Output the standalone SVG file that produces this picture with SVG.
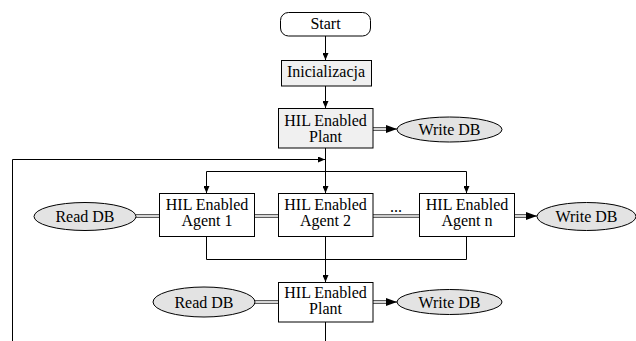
<svg xmlns="http://www.w3.org/2000/svg" width="636" height="341" viewBox="0 0 636 341">
<style>
  .box { stroke: #000; stroke-width: 1; fill: #fff; }
  .gray { fill: #f0f0f0; }
  .db { stroke: #000; stroke-width: 1; fill: #e3e3e3; }
  .t { font-family: "Liberation Serif", "Times New Roman", serif; font-size: 16px; fill: #000; text-anchor: middle; }
  .ln { stroke: #000; stroke-width: 1; fill: none; }
  .dbl-o { stroke: #333; stroke-width: 3.6; fill: none; }
  .dbl-i { stroke: #fff; stroke-width: 1.6; fill: none; }
</style>
<defs>
  <marker id="ar" markerWidth="8" markerHeight="6" refX="7" refY="3" orient="auto" markerUnits="userSpaceOnUse">
    <path d="M0,0 L7,3 L0,6 Z" fill="#000"/>
  </marker>
  <marker id="ar2" markerWidth="12" markerHeight="10" refX="11" refY="5" orient="auto" markerUnits="userSpaceOnUse">
    <path d="M0,1 L11,5 L0,9 Z" fill="#000"/>
  </marker>
</defs>

<g id="connectors">
  <line class="ln" x1="325.5" y1="36" x2="325.5" y2="60" marker-end="url(#ar)"/>
  <line class="ln" x1="325.5" y1="86" x2="325.5" y2="108" marker-end="url(#ar)"/>
  <line class="ln" x1="325.5" y1="148" x2="325.5" y2="193" marker-end="url(#ar)"/>
  <polyline class="ln" points="12.5,341 12.5,159.5 325,159.5" marker-end="url(#ar)"/>
  <polyline class="ln" points="206.5,193 206.5,171.5 466.5,171.5 466.5,193"/>
  <line class="ln" x1="206.5" y1="180" x2="206.5" y2="193" marker-end="url(#ar)"/>
  <line class="ln" x1="466.5" y1="180" x2="466.5" y2="193" marker-end="url(#ar)"/>
  <polyline class="ln" points="206.5,237 206.5,259.5 466.5,259.5 466.5,237"/>
  <line class="ln" x1="325.5" y1="237" x2="325.5" y2="282" marker-end="url(#ar)"/>
  <line class="ln" x1="325.5" y1="322" x2="325.5" y2="341"/>

  <line class="dbl-o" x1="373" y1="129" x2="390" y2="129"/>
  <line class="dbl-i" x1="373" y1="129" x2="390" y2="129"/>
  <line class="ln" x1="388" y1="129" x2="397" y2="129" marker-end="url(#ar2)"/>

  <line class="dbl-o" x1="136" y1="216" x2="159" y2="216"/>
  <line class="dbl-i" x1="136" y1="216" x2="159" y2="216"/>
  <line class="dbl-o" x1="254" y1="216" x2="278" y2="216"/>
  <line class="dbl-i" x1="254" y1="216" x2="278" y2="216"/>
  <line class="dbl-o" x1="373" y1="216" x2="419" y2="216"/>
  <line class="dbl-i" x1="373" y1="216" x2="419" y2="216"/>
  <line class="dbl-o" x1="514" y1="216" x2="530" y2="216"/>
  <line class="dbl-i" x1="514" y1="216" x2="530" y2="216"/>
  <line class="ln" x1="528" y1="216" x2="537" y2="216" marker-end="url(#ar2)"/>

  <line class="dbl-o" x1="255" y1="302" x2="278" y2="302"/>
  <line class="dbl-i" x1="255" y1="302" x2="278" y2="302"/>
  <line class="dbl-o" x1="373" y1="302" x2="390" y2="302"/>
  <line class="dbl-i" x1="373" y1="302" x2="390" y2="302"/>
  <line class="ln" x1="388" y1="302" x2="397" y2="302" marker-end="url(#ar2)"/>
  <text class="t" x="396" y="212">...</text>
</g>

<g id="start">
  <rect class="box" x="280.5" y="12.5" width="90" height="23.5" rx="8"/>
  <text class="t" x="325.5" y="29">Start</text>
</g>
<g id="init">
  <rect class="box gray" x="281.5" y="60.5" width="90" height="25.5"/>
  <text class="t" x="326" y="77">Inicializacja</text>
</g>
<g id="plant1">
  <rect class="box gray" x="278.5" y="108.5" width="94.5" height="39.5"/>
  <text class="t" x="325.5" y="126">HIL Enabled</text>
  <text class="t" x="325.5" y="142">Plant</text>
</g>
<g id="writedb1">
  <ellipse class="db" cx="449.5" cy="129.5" rx="52.5" ry="12.5"/>
  <text class="t" x="449.5" y="135">Write DB</text>
</g>
<g id="readdb1">
  <ellipse class="db" cx="85" cy="216.5" rx="51" ry="14"/>
  <text class="t" x="85" y="222">Read DB</text>
</g>
<g id="agent1">
  <rect class="box" x="159.5" y="193.5" width="95" height="43"/>
  <text class="t" x="207" y="210">HIL Enabled</text>
  <text class="t" x="207" y="226">Agent 1</text>
</g>
<g id="agent2">
  <rect class="box" x="278.5" y="193.5" width="94.5" height="43"/>
  <text class="t" x="325.5" y="210">HIL Enabled</text>
  <text class="t" x="325.5" y="226">Agent 2</text>
</g>
<g id="agentn">
  <rect class="box" x="419.5" y="193.5" width="95" height="43"/>
  <text class="t" x="467" y="210">HIL Enabled</text>
  <text class="t" x="467" y="226">Agent n</text>
</g>
<g id="writedb2">
  <ellipse class="db" cx="586.5" cy="216.5" rx="49.5" ry="14"/>
  <text class="t" x="586.5" y="222">Write DB</text>
</g>
<g id="readdb2">
  <ellipse class="db" cx="204" cy="302" rx="51" ry="15"/>
  <text class="t" x="204" y="307.5">Read DB</text>
</g>
<g id="plant2">
  <rect class="box" x="278.5" y="282.5" width="94.5" height="39.5"/>
  <text class="t" x="325.5" y="298">HIL Enabled</text>
  <text class="t" x="325.5" y="314">Plant</text>
</g>
<g id="writedb3">
  <ellipse class="db" cx="449.5" cy="302" rx="52.5" ry="12.5"/>
  <text class="t" x="449.5" y="307.5">Write DB</text>
</g>
</svg>
